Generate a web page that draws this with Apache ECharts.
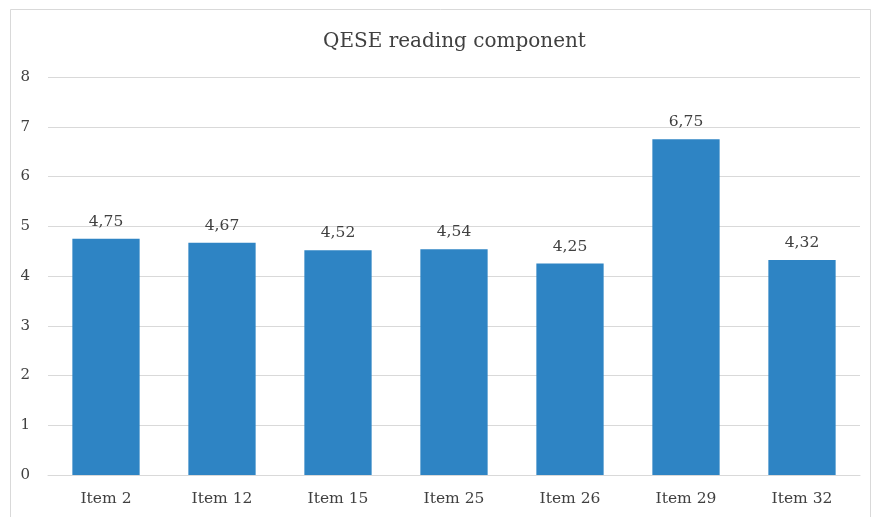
<!DOCTYPE html>
<html>
<head>
<meta charset="utf-8">
<script src="https://cdn.jsdelivr.net/npm/echarts@6/dist/echarts.min.js"></script>
<style>
  html, body { margin: 0; padding: 0; background: #fff; }
  #chart { width: 877px; height: 517px; }
</style>
</head>
<body>
<div id="chart"></div>
<script>
var categories = ['Item 2', 'Item 12', 'Item 15', 'Item 25', 'Item 26', 'Item 29', 'Item 32']
var values = [4.75, 4.67, 4.52, 4.54, 4.25, 6.75, 4.32]
var yTicks = [0, 1, 2, 3, 4, 5, 6, 7, 8]

var chart = echarts.init(document.getElementById('chart'))
chart.setOption({
  backgroundColor: '#fff',
  animation: false,
  // frame around the chart area
  graphic: [{
    type: 'rect',
    left: 8,
    top: 7,
    shape: { width: 860, height: 520 },
    style: { fill: 'none', stroke: '#d9d9d9', lineWidth: 1 },
    silent: true
  }],
  title: {
    text: 'QESE reading component',
    left: 318,
    top: 27,
    textStyle: {
      fontFamily: 'DejaVu Serif',
      fontWeight: 'normal',
      fontSize: 20,
      color: '#404040'
    }
  },
  grid: {
    left: 48,
    right: 17,
    top: 77,
    bottom: 42
  },
  xAxis: {
    type: 'category',
    data: categories,
    axisLine: { lineStyle: { color: '#d9d9d9' } },
    axisTick: { show: false },
    axisLabel: {
      margin: 16,
      fontFamily: 'DejaVu Serif',
      fontSize: 15.5,
      color: '#404040'
    }
  },
  yAxis: {
    type: 'value',
    min: yTicks[0],
    max: yTicks[yTicks.length - 1],
    interval: 1,
    axisLine: { show: false },
    axisTick: { show: false },
    axisLabel: {
      margin: 18,
      fontFamily: 'DejaVu Serif',
      fontSize: 15,
      color: '#404040'
    },
    splitLine: { lineStyle: { color: '#d9d9d9' } }
  },
  series: [{
    type: 'bar',
    data: values,
    barWidth: '58%',
    itemStyle: { color: '#2e84c4' },
    label: {
      show: true,
      position: 'top',
      distance: 9,
      fontFamily: 'DejaVu Serif',
      fontSize: 15.5,
      color: '#404040',
      formatter: function (p) {
        return p.value.toFixed(2).replace('.', ',')
      }
    }
  }]
})
</script>
</body>
</html>
